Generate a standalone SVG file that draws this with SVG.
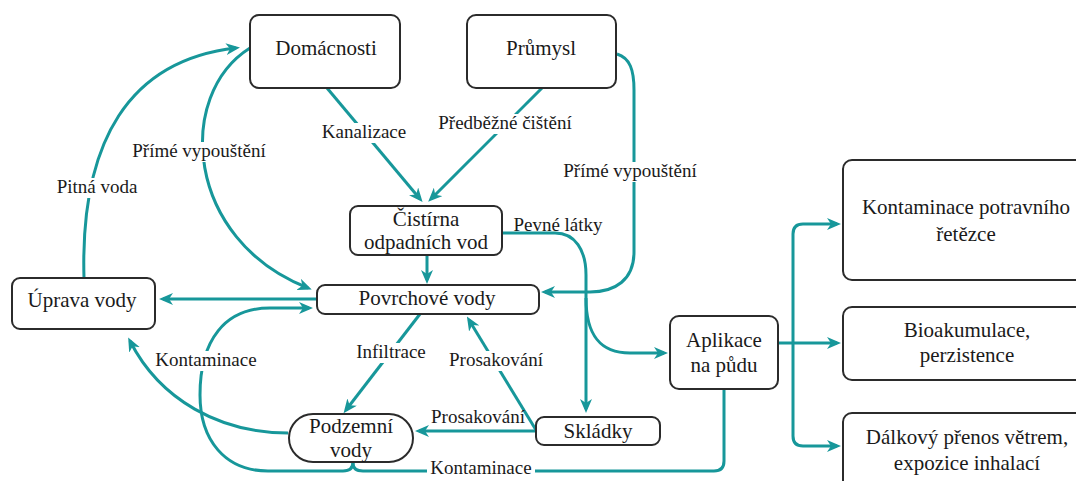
<svg xmlns="http://www.w3.org/2000/svg" width="1076" height="481" viewBox="0 0 1076 481">
<style>
.node rect{fill:#fff;stroke:#2b2b2b;stroke-width:2}
.node text{font-family:'Liberation Serif','DejaVu Serif',serif;font-size:21px;fill:#1a1a1a;text-anchor:middle}
.conn path{fill:none;stroke:#17979a;stroke-width:3}
.lbl text{font-family:'Liberation Serif','DejaVu Serif',serif;font-size:19px;fill:#1a1a1a;text-anchor:middle}
.lbl rect{fill:#fff}
</style>
<defs>
<marker id="ah" viewBox="0 0 14 12" refX="10" refY="6" markerWidth="14" markerHeight="12" markerUnits="userSpaceOnUse" orient="auto">
<path d="M0,0 L14,6 L0,12 L4,6 z" fill="#17979a"/>
</marker>
</defs>
<rect width="1076" height="481" fill="#fff"/>
<g class="conn" id="connectors">
<path d="M84,278 C80,140 130,60 236,48" marker-end="url(#ah)"/>
<path d="M250,48 C175,95 185,240 308,288" marker-end="url(#ah)"/>
<path d="M327,88 L420,199" marker-end="url(#ah)"/>
<path d="M542,88 L431,199" marker-end="url(#ah)"/>
<path d="M617,54 C630,58 634,70 634,90 L634,252 C634,280 615,292 590,292 L545,292" marker-end="url(#ah)"/>
<path d="M427,255 L427,280" marker-end="url(#ah)"/>
<path d="M502,233 L555,233 C575,233 586,250 586,275 L586,409" marker-end="url(#ah)"/>
<path d="M586,298 C586,335 600,353 630,353 L664,353" marker-end="url(#ah)"/>
<path d="M317,299 L163,299" marker-end="url(#ah)"/>
<path d="M353,462 Q353,471 343,471 L268,471 C225,471 200,440 200,395 C200,340 225,308 270,308 L309,308" marker-end="url(#ah)"/>
<path d="M724,389 L724,461 Q724,471 714,471 L363,471 Q353,471 353,463"/>
<path d="M288,433 C220,433 160,400 130,341" marker-end="url(#ah)"/>
<path d="M420,314 L346,410" marker-end="url(#ah)"/>
<path d="M536,430 L469,320" marker-end="url(#ah)"/>
<path d="M536,431 L419,431" marker-end="url(#ah)"/>
<path d="M778,343 L837,343" marker-end="url(#ah)"/>
<path d="M793,343 L793,234 Q793,224 803,224 L837,224" marker-end="url(#ah)"/>
<path d="M793,343 L793,436 Q793,446 803,446 L837,446" marker-end="url(#ah)"/>
</g>
<g class="lbl" id="labels">
<rect x="55" y="178" width="84" height="20"/><text x="97" y="193">Pitná voda</text>
<rect x="130" y="142" width="138" height="20"/><text x="199" y="157">Přímé vypouštění</text>
<rect x="320" y="123" width="88" height="20"/><text x="364" y="138">Kanalizace</text>
<rect x="436" y="114" width="139" height="20"/><text x="505" y="129">Předběžné čištění</text>
<rect x="561" y="162" width="138" height="20"/><text x="630" y="177">Přímé vypouštění</text>
<text x="558" y="231">Pevné látky</text>
<rect x="354" y="343" width="74" height="20"/><text x="391" y="358">Infiltrace</text>
<rect x="447" y="351" width="98" height="20"/><text x="496" y="366">Prosakování</text>
<text x="478" y="423">Prosakování</text>
<rect x="153" y="351" width="106" height="20"/><text x="206" y="366">Kontaminace</text>
<rect x="427" y="460" width="108" height="20"/><text x="481" y="474">Kontaminace</text>
</g>
<g class="node" id="domacnosti"><rect x="250" y="15" width="150" height="73" rx="9"/><text x="326" y="55">Domácnosti</text></g>
<g class="node" id="prumysl"><rect x="467" y="15" width="149" height="73" rx="9"/><text x="541" y="55">Průmysl</text></g>
<g class="node" id="cistirna"><rect x="350" y="206" width="152" height="49" rx="8"/><text x="426" y="226">Čistírna</text><text x="426" y="249">odpadních vod</text></g>
<g class="node" id="povrchove"><rect x="317" y="285" width="222" height="29" rx="8"/><text x="427" y="305">Povrchové vody</text></g>
<g class="node" id="uprava"><rect x="12" y="278" width="143" height="51" rx="8"/><text x="82" y="307">Úprava vody</text></g>
<g class="node" id="podzemni"><rect x="289" y="414" width="124" height="48" rx="24"/><text x="351" y="433">Podzemní</text><text x="351" y="457">vody</text></g>
<g class="node" id="skladky"><rect x="536" y="417" width="124" height="28" rx="8"/><text x="598" y="438">Skládky</text></g>
<g class="node" id="aplikace"><rect x="670" y="316" width="108" height="73" rx="9"/><text x="724" y="347">Aplikace</text><text x="724" y="372">na půdu</text></g>
<g class="node" id="potravni"><rect x="843" y="160" width="250" height="120" rx="9"/><text x="966" y="214">Kontaminace potravního</text><text x="966" y="241">řetězce</text></g>
<g class="node" id="bioakumulace"><rect x="843" y="307" width="250" height="73" rx="9"/><text x="967" y="337">Bioakumulace,</text><text x="967" y="362">perzistence</text></g>
<g class="node" id="dalkovy"><rect x="843" y="413" width="250" height="100" rx="9"/><text x="967" y="444">Dálkový přenos větrem,</text><text x="967" y="470">expozice inhalací</text></g>
</svg>
